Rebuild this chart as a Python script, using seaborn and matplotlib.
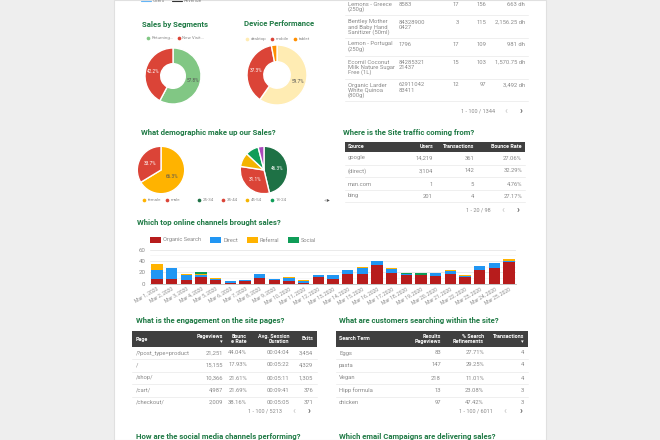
import matplotlib
matplotlib.use("Agg")
import matplotlib.pyplot as plt
from matplotlib.patches import Rectangle
import numpy as np
import pandas as pd
import seaborn as sns

sns.set_theme(style="white")
plt.rcParams["font.family"] = ["Roboto", "DejaVu Sans"]

TITLE = "#1f7a45"
GREY = "#8a8a8a"
LINE = "#ececec"
HEAD = "#3f3f3f"

segments = ["Returning...", "New Visit..."]
segment_vals = [57.8, 42.2]
segment_colors = ["#81c784", "#db4437"]

devices = ["desktop", "mobile", "tablet"]
device_vals = [59.7, 37.3, 3.0]
device_colors = ["#ffecb3", "#db4437", "#ff8f00"]

genders = ["female", "male"]
gender_vals = [66.3, 33.7]
gender_colors = ["#ffb300", "#db4437"]

ages = ["25-34", "35-44", "45-54", "18-24", "55-64"]
age_vals = [46.3, 31.1, 9.6, 9.0, 4.0]
age_colors = ["#1e7145", "#db4437", "#f4b400", "#0f9d58", "#ab47bc"]

days = [f"Mar {d}, 2020" for d in range(1, 26)]
organic = [9, 9, 7, 12, 6, 2, 5, 10, 6, 5, 2, 12, 9, 18, 18, 33, 19, 15, 15, 14, 18, 12, 25, 27, 38]
direct = [16, 18, 8, 3, 3, 2, 1, 7, 2, 5, 3, 3, 7, 7, 9, 7, 7, 3, 1, 5, 5, 1, 6, 9, 2]
referral = [10, 1, 2, 2, 1, 1, 0, 1, 1, 1, 2, 1, 0, 0, 2, 0, 1, 0, 0, 0, 1, 2, 0, 0, 3]
social = [0, 0, 1, 3, 0, 0, 0, 0, 0, 0, 0, 0, 0, 0, 0, 0, 0, 1, 3, 0, 0, 0, 0, 0, 0]
channel_names = ["Organic Search", "Direct", "Referral", "Social"]
channel_colors = ["#b71c1c", "#2196f3", "#ffb300", "#0f9d58"]

product_rows = [
    (["Lemons - Greece", "(250g)"], ["8583"], "17", "156", "663 dh"),
    (["Bentley Mother", "and Baby Hand", "Sanitizer (50ml)"], ["84328900", "0427"], "3", "115", "2,156.25 dh"),
    (["Lemon - Portugal", "(250g)"], ["1796"], "17", "109", "981 dh"),
    (["Ecomil Coconut", "Milk Nature Sugar", "Free (1L)"], ["84285321", "21437"], "15", "103", "1,570.75 dh"),
    (["Organic Larder", "White Quinoa", "(800g)"], ["62911042", "83411"], "12", "97", "3,492 dh"),
]
product_y = [4, 22, 44, 62, 85]
product_lines = [15, 38, 56, 79, 101]

source_head = ["Source", "Users", "Transactions", "Bounce Rate"]
source_rows = [
    ["google", "14,219", "361", "27.06%"],
    ["(direct)", "3,104", "142", "32.29%"],
    ["msn.com", "1", "5", "4.76%"],
    ["bing", "201", "4", "27.17%"],
]
page_head = ["Page", "Pageviews\n▾", "Bounc\ne Rate", "Avg. Session\nDuration", "Exits"]
page_rows = [
    ["/?post_type=product", "21,251", "44.04%", "00:04:04", "3,454"],
    ["/", "15,155", "17.93%", "00:05:22", "4,329"],
    ["/shop/", "10,366", "21.61%", "00:05:11", "1,305"],
    ["/cart/", "4,987", "21.69%", "00:09:41", "376"],
    ["/checkout/", "2,009", "38.16%", "00:05:05", "371"],
]
search_head = ["Search Term", "Results\nPageviews", "% Search\nRefinements", "Transactions\n▾"]
search_rows = [
    ["Eggs", "83", "27.71%", "4"],
    ["pasta", "147", "29.25%", "4"],
    ["Vegan", "218", "11.01%", "4"],
    ["Hipp formula", "13", "23.08%", "3"],
    ["chicken", "97", "47.42%", "3"],
]

W, H = 660, 440
fig = plt.figure(figsize=(6.6, 4.4), dpi=100, facecolor="#eeeeee")
bg = fig.add_axes([0, 0, 1, 1])
bg.set_xlim(0, W)
bg.set_ylim(H, 0)
bg.axis("off")


def px_axes(x0, y0, x1, y1, **kw):
    return fig.add_axes([x0 / W, 1 - y1 / H, (x1 - x0) / W, (y1 - y0) / H], **kw)


def txt(x, y, s, size=4.2, color=GREY, ha="left", **kw):
    bg.text(x, y, s, fontsize=size, color=color, ha=ha, va="center", **kw)


def title(x, y, s):
    txt(x, y, s, size=5.6, color=TITLE, fontweight="bold")


def dots(y, items):
    for x, name, c in items:
        bg.scatter([x], [y], s=7, color=c, linewidths=0)
        txt(x + 3.5, y, name, size=3.2)


def donut(cx, cy, r, vals, colors, hole=0.0, label_min=20):
    ax = px_axes(cx - r, cy - r, cx + r, cy + r)
    wedges, _, autos = ax.pie(vals, colors=colors, startangle=90, counterclock=False,
                              autopct=lambda p: f"{p:.1f}%" if p > label_min else "",
                              pctdistance=0.72 if hole else 0.55, radius=1,
                              wedgeprops={"width": 1 - hole} if hole else {},
                              textprops={"fontsize": 3.4, "color": "white"})
    ax.set_xlim(-1, 1)
    ax.set_ylim(-1, 1)
    autos[0].set_color("#555555" if colors[0] != "#1e7145" else "white")


def pager(y, right, lt, gt, s):
    txt(right, y, s, size=4.0, ha="right")
    txt(lt, y, "‹", size=7, color="#c4c4c4", ha="center")
    txt(gt, y, "›", size=7, color="#444444", ha="center")


def table(x0, x1, y0, y1, head, rows, cols, aligns, row_y, lines):
    bg.add_patch(Rectangle((x0, y0), x1 - x0, y1 - y0, color=HEAD, lw=0))
    for c, a, h in zip(cols, aligns, head):
        bg.text(c, (y0 + y1) / 2, h, fontsize=3.9, color="white", fontweight="bold",
                ha=a, va="center", linespacing=1.0, ma=a)
    for y, row in zip(row_y, rows):
        for c, a, v in zip(cols, aligns, row):
            txt(c, y, v, ha=a)
    for y in lines:
        bg.plot([x0, x1], [y, y], color=LINE, lw=0.6)


# white page card on the grey viewer background
bg.add_patch(Rectangle((114, 0), 432, H, facecolor="white", edgecolor="#e0e0e0", lw=0.8))

# cut off legend at the very top
bg.plot([141, 151], [1, 1], color="#64b5f6", lw=0.8)
txt(152.5, 1, "Users", size=3.4)
bg.plot([172, 182], [1, 1], color="#333333", lw=0.8)
txt(183.5, 1, "Revenue", size=3.4)

# donuts
title(142, 24, "Sales by Segments")
dots(38, [(148, segments[0], segment_colors[0]), (179, segments[1], segment_colors[1])])
donut(173, 76, 28, segment_vals, segment_colors, hole=0.44)

title(244, 24, "Device Performance")
dots(39, [(247, devices[0], device_colors[0]), (272, devices[1], device_colors[1]), (295, devices[2], device_colors[2])])
donut(277, 75, 30, device_vals, device_colors, hole=0.44)

# product table, header is scrolled out of view
for (name, sku, a, b, c), y in zip(product_rows, product_y):
    for i, part in enumerate(name):
        txt(348, y + i * 5.2, part)
    for i, part in enumerate(sku):
        txt(399, y + i * 5.2, part)
    txt(459, y, a, ha="right")
    txt(486, y, b, ha="right")
    txt(525, y, c, ha="right")
for y in product_lines:
    bg.plot([345, 528], [y, y], color=LINE, lw=0.6)
pager(111, 495, 506, 521, "1 - 100 / 1344")

# demographics
title(141, 132, "What demographic make up our Sales?")
donut(161, 170, 23.7, gender_vals, gender_colors)
donut(264, 170, 23.7, age_vals, age_colors)
dots(200, [(144, genders[0], gender_colors[0]), (167, genders[1], gender_colors[1]),
           (199, ages[0], age_colors[0]), (223, ages[1], age_colors[1]),
           (247, ages[2], age_colors[2]), (272, ages[3], age_colors[3])])
txt(325, 200, "◂", size=4, color="#bbbbbb", ha="center")
txt(328.5, 200, "▸", size=4, color="#555555", ha="center")

# traffic table
title(343, 132, "Where is the Site traffic coming from?")
table(345, 525, 142, 152, source_head, source_rows, [348, 433, 474, 522],
      ["left", "right", "right", "right"], [158, 171, 184, 196], [165, 177, 190, 202])
pager(210, 491, 503, 518, "1 - 20 / 98")

# channels
title(137, 222, "Which top online channels brought sales?")
for (sx, name), c in zip([(150, channel_names[0]), (210, channel_names[1]),
                          (247, channel_names[2]), (288, channel_names[3])], channel_colors):
    bg.add_patch(Rectangle((sx, 237), 11, 6, color=c, lw=0))
    txt(sx + 13, 240, name, size=4.1)

ax = px_axes(149.7, 249.7, 516.4, 283.7)
ax.patch.set_alpha(0)
df = pd.DataFrame({"day": days, "Organic Search": organic, "Direct": direct,
                   "Referral": referral, "Social": social})
base = np.zeros(len(days))
for name, c in zip(channel_names, channel_colors):
    sns.barplot(data=df, x="day", y=name, color=c, saturation=1, width=0.78,
                bottom=base, ax=ax, zorder=3, linewidth=0)
    base = base + df[name].to_numpy()
ax.set_xlim(-0.5, 24.5)
ax.set_ylim(0, 60)
ax.set_yticks([0, 20, 40, 60])
ax.set_yticks([10, 30, 50], minor=True)
ax.grid(axis="y", which="major", color="#e6e6e6", lw=0.6, zorder=0)
ax.grid(axis="y", which="minor", color="#f4f4f4", lw=0.5, zorder=0)
ax.set_xlabel("")
ax.set_ylabel("")
sns.despine(ax=ax, left=True, top=True, right=True)
ax.spines["bottom"].set_color("#bbbbbb")
ax.spines["bottom"].set_linewidth(0.6)
ax.tick_params(axis="y", which="both", length=0, labelsize=4.4, labelcolor=GREY, pad=3)
ax.tick_params(axis="x", length=0, labelsize=3.6, labelcolor=GREY, pad=2)
plt.setp(ax.get_xticklabels(), rotation=30, ha="right", rotation_mode="anchor")

# bottom tables
title(136, 321, "What is the engagement on the site pages?")
table(132, 317, 331, 347, page_head, page_rows, [136, 223, 247, 289, 313],
      ["left", "right", "right", "right", "right"], [353, 365, 378, 390, 402], [359, 372, 384, 397])
pager(411, 282, 294, 309, "1 - 100 / 5213")

title(339, 321, "What are customers searching within the site?")
table(336, 528, 331, 347, search_head, search_rows, [339, 441, 484, 524],
      ["left", "right", "right", "right"], [353, 365, 378, 390, 402], [359, 372, 384, 397])
pager(411, 493, 505, 521, "1 - 100 / 6011")

title(136, 437, "How are the social media channels performing?")
title(339, 437, "Which email Campaigns are delivering sales?")

fig.savefig("out.png", dpi=100, facecolor=fig.get_facecolor())
